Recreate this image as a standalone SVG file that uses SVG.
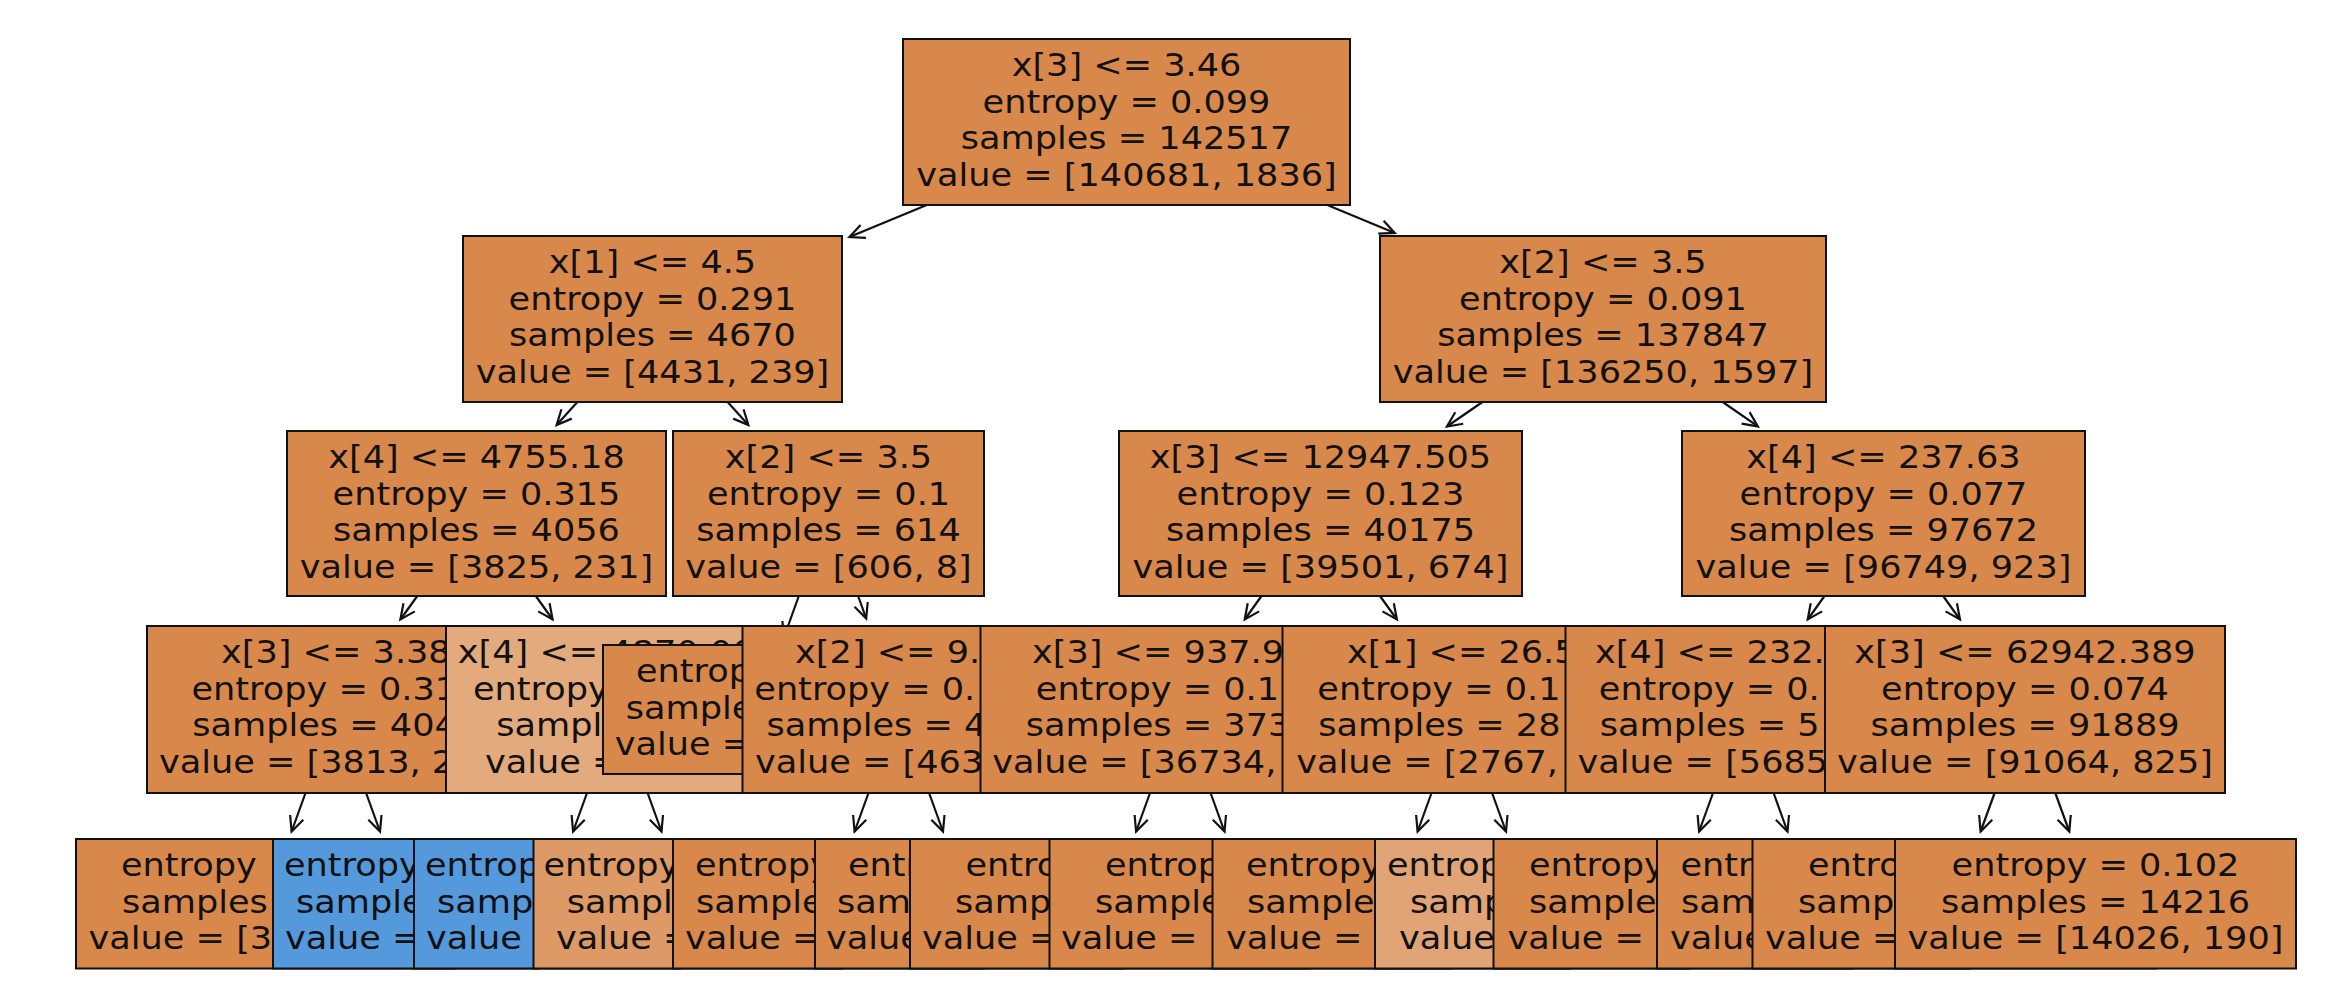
<svg xmlns="http://www.w3.org/2000/svg" width="2334" height="996" viewBox="0 0 2334 996">
<style>
.b{stroke:#111;stroke-width:2}
.o{fill:#d9884b}
.l1{fill:#e3aa7e}
.l2{fill:#dd9966}
.l3{fill:#e0a476}
.bl{fill:#5599dd}
text{font-family:"DejaVu Sans","Liberation Sans",sans-serif;font-size:32.5px;fill:#111}
.c{text-anchor:middle}
.e line{stroke:#111;stroke-width:2.2;fill:none;marker-end:url(#ah)}
</style>
<defs>
<marker id="ah" markerUnits="userSpaceOnUse" orient="auto" refX="0" refY="0" markerWidth="40" markerHeight="40" overflow="visible">
<path d="M-15,-7 L0,0 L-15,7" fill="none" stroke="#111" stroke-width="2.2"/>
</marker>
</defs>
<rect width="2334" height="996" fill="#fff"/>
<g id="connectors" class="e">
<line x1="926.8" y1="205" x2="849.4" y2="237.1"/>
<line x1="1327.3" y1="205" x2="1394.8" y2="232.9"/>
<line x1="577.4" y1="402" x2="556.6" y2="425.1"/>
<line x1="727.6" y1="402" x2="748.4" y2="425.1"/>
<line x1="1482.5" y1="402" x2="1446.9" y2="426.5"/>
<line x1="1722.7" y1="402" x2="1757.9" y2="426.4"/>
<line x1="417.3" y1="596" x2="400.4" y2="619.5"/>
<line x1="535.8" y1="596" x2="552.6" y2="619.5"/>
<line x1="798.8" y1="596" x2="783.9" y2="637.5"/>
<line x1="858.1" y1="596" x2="866.2" y2="618.5"/>
<line x1="1261.5" y1="596" x2="1244.7" y2="619.5"/>
<line x1="1380" y1="596" x2="1396.9" y2="619.5"/>
<line x1="1824.5" y1="596" x2="1807.7" y2="619.5"/>
<line x1="1943.1" y1="596" x2="1960" y2="619.5"/>
<line x1="305.5" y1="793" x2="291.6" y2="831.5"/>
<line x1="366.1" y1="793" x2="380" y2="831.5"/>
<line x1="587" y1="793" x2="573.1" y2="831.5"/>
<line x1="647.6" y1="793" x2="661.5" y2="831.5"/>
<line x1="868.5" y1="793" x2="854.6" y2="831.5"/>
<line x1="929.1" y1="793" x2="943" y2="831.5"/>
<line x1="1150" y1="793" x2="1136.1" y2="831.5"/>
<line x1="1210.6" y1="793" x2="1224.5" y2="831.5"/>
<line x1="1431.5" y1="793" x2="1417.6" y2="831.5"/>
<line x1="1492.1" y1="793" x2="1506" y2="831.5"/>
<line x1="1713" y1="793" x2="1699.1" y2="831.5"/>
<line x1="1773.6" y1="793" x2="1787.5" y2="831.5"/>
<line x1="1994.6" y1="793" x2="1980.6" y2="831.5"/>
<line x1="2055.3" y1="793" x2="2069.3" y2="831.5"/>
</g>
<g id="leaf1"><rect class="b o" x="76" y="839" width="378.5" height="129.5"/>
<text transform="translate(121 876) scale(1.08 1)">entropy</text>
<text transform="translate(122 912.6) scale(1.08 1)">samples</text>
<text transform="translate(88.6 949.2) scale(1.08 1)">value = [3</text></g>
<g id="leaf2"><rect class="b bl" x="273" y="839" width="266" height="129.5"/>
<text transform="translate(284 876) scale(1.08 1)">entropy</text>
<text transform="translate(296 912.6) scale(1.08 1)">sample</text>
<text transform="translate(285 949.2) scale(1.08 1)">value =</text></g>
<g id="leaf3"><rect class="b bl" x="414" y="839" width="266" height="129.5"/>
<text transform="translate(425 876) scale(1.08 1)">entrop</text>
<text transform="translate(437 912.6) scale(1.08 1)">samp</text>
<text transform="translate(426 949.2) scale(1.08 1)">value</text></g>
<g id="leaf4"><rect class="b l2" x="533.5" y="839" width="308.5" height="129.5"/>
<text transform="translate(543.5 876) scale(1.08 1)">entropy</text>
<text transform="translate(566.7 912.6) scale(1.08 1)">sampl</text>
<text transform="translate(556 949.2) scale(1.08 1)">value =</text></g>
<g id="leaf5"><rect class="b o" x="673" y="839" width="311" height="129.5"/>
<text transform="translate(695 876) scale(1.08 1)">entropy</text>
<text transform="translate(696 912.6) scale(1.08 1)">sample</text>
<text transform="translate(685 949.2) scale(1.08 1)">value =</text></g>
<g id="leaf6"><rect class="b o" x="815" y="839" width="308.5" height="129.5"/>
<text transform="translate(848 876) scale(1.08 1)">entr</text>
<text transform="translate(836.9 912.6) scale(1.08 1)">sam</text>
<text transform="translate(825.9 949.2) scale(1.08 1)">value</text></g>
<g id="leaf7"><rect class="b o" x="910" y="839" width="400" height="129.5"/>
<text transform="translate(965.4 876) scale(1.08 1)">entro</text>
<text transform="translate(955 912.6) scale(1.08 1)">samp</text>
<text transform="translate(922 949.2) scale(1.08 1)">value =</text></g>
<g id="leaf8"><rect class="b o" x="1049.5" y="839" width="402.5" height="129.5"/>
<text transform="translate(1105 876) scale(1.08 1)">entrop</text>
<text transform="translate(1095 912.6) scale(1.08 1)">sample</text>
<text transform="translate(1061 949.2) scale(1.08 1)">value =</text></g>
<g id="leaf9"><rect class="b o" x="1212.5" y="839" width="358" height="129.5"/>
<text transform="translate(1246 876) scale(1.08 1)">entropy</text>
<text transform="translate(1247 912.6) scale(1.08 1)">sample</text>
<text transform="translate(1226 949.2) scale(1.08 1)">value =</text></g>
<g id="leaf10"><rect class="b l3" x="1375" y="839" width="314.5" height="129.5"/>
<text transform="translate(1387 876) scale(1.08 1)">entrop</text>
<text transform="translate(1410 912.6) scale(1.08 1)">samp</text>
<text transform="translate(1399 949.2) scale(1.08 1)">value</text></g>
<g id="leaf11"><rect class="b o" x="1493.5" y="839" width="359" height="129.5"/>
<text transform="translate(1529 876) scale(1.08 1)">entropy</text>
<text transform="translate(1529 912.6) scale(1.08 1)">sample</text>
<text transform="translate(1507.6 949.2) scale(1.08 1)">value =</text></g>
<g id="leaf12"><rect class="b o" x="1657" y="839" width="313.5" height="129.5"/>
<text transform="translate(1680.5 876) scale(1.08 1)">entr</text>
<text transform="translate(1681 912.6) scale(1.08 1)">sam</text>
<text transform="translate(1670 949.2) scale(1.08 1)">value</text></g>
<g id="leaf13"><rect class="b o" x="1752.5" y="839" width="404" height="129.5"/>
<text transform="translate(1808 876) scale(1.08 1)">entro</text>
<text transform="translate(1798 912.6) scale(1.08 1)">samp</text>
<text transform="translate(1765 949.2) scale(1.08 1)">value =</text></g>
<g id="leaf14"><rect class="b o" x="1895" y="839" width="401" height="129.5"/>
<text class="c" transform="translate(2095.5 0) scale(1.08 1)"><tspan x="0" y="876">entropy = 0.102</tspan><tspan x="0" y="912.6">samples = 14216</tspan><tspan x="0" y="949.2">value = [14026, 190]</tspan></text></g>
<g id="n3a"><rect class="b o" x="147" y="626" width="378" height="167"/>
<text transform="translate(221 663) scale(1.08 1)">x[3] &lt;= 3.38</text>
<text transform="translate(191.5 699.6) scale(1.08 1)">entropy = 0.31</text>
<text transform="translate(192.3 736.2) scale(1.08 1)">samples = 404</text>
<text transform="translate(159 772.8) scale(1.08 1)">value = [3813, 2</text></g>
<g id="n3b"><rect class="b l1" x="446" y="626" width="342" height="167"/>
<text transform="translate(457.8 663) scale(1.08 1)">x[4] &lt;= 4870.00</text>
<text transform="translate(473 699.6) scale(1.08 1)">entropy</text>
<text transform="translate(496.2 736.2) scale(1.08 1)">sampl</text>
<text transform="translate(485 772.8) scale(1.08 1)">value =</text></g>
<g id="n3c"><rect class="b o" x="603" y="645" width="310" height="129"/>
<text transform="translate(636 682) scale(1.08 1)">entropy</text>
<text transform="translate(625.7 718.6) scale(1.08 1)">samples</text>
<text transform="translate(614.7 755.2) scale(1.08 1)">value =</text></g>
<g id="n3d"><rect class="b o" x="742.5" y="626" width="313" height="167"/>
<text transform="translate(795.1 663) scale(1.08 1)">x[2] &lt;= 9.</text>
<text transform="translate(754.3 699.6) scale(1.08 1)">entropy = 0.</text>
<text transform="translate(766.5 736.2) scale(1.08 1)">samples = 4</text>
<text transform="translate(755 772.8) scale(1.08 1)">value = [463</text></g>
<g id="n3e"><rect class="b o" x="980.5" y="626" width="400" height="167"/>
<text transform="translate(1032 663) scale(1.08 1)">x[3] &lt;= 937.9</text>
<text transform="translate(1035.8 699.6) scale(1.08 1)">entropy = 0.1</text>
<text transform="translate(1025.8 736.2) scale(1.08 1)">samples = 373</text>
<text transform="translate(992.3 772.8) scale(1.08 1)">value = [36734,</text></g>
<g id="n3f"><rect class="b o" x="1282.5" y="626" width="358.5" height="167"/>
<text transform="translate(1346.9 663) scale(1.08 1)">x[1] &lt;= 26.5</text>
<text transform="translate(1317.3 699.6) scale(1.08 1)">entropy = 0.1</text>
<text transform="translate(1318.3 736.2) scale(1.08 1)">samples = 28</text>
<text transform="translate(1296.3 772.8) scale(1.08 1)">value = [2767,</text></g>
<g id="n3g"><rect class="b o" x="1565.5" y="626" width="355.5" height="167"/>
<text transform="translate(1595 663) scale(1.08 1)">x[4] &lt;= 232.</text>
<text transform="translate(1598.8 699.6) scale(1.08 1)">entropy = 0.</text>
<text transform="translate(1599.8 736.2) scale(1.08 1)">samples = 5</text>
<text transform="translate(1577.6 772.8) scale(1.08 1)">value = [5685</text></g>
<g id="n3h"><rect class="b o" x="1825" y="626" width="400" height="167"/>
<text class="c" transform="translate(2025 0) scale(1.08 1)"><tspan x="0" y="663">x[3] &lt;= 62942.389</tspan><tspan x="0" y="699.6">entropy = 0.074</tspan><tspan x="0" y="736.2">samples = 91889</tspan><tspan x="0" y="772.8">value = [91064, 825]</tspan></text></g>
<g id="n2a"><rect class="b o" x="287" y="431" width="379" height="165"/>
<text class="c" transform="translate(476.5 0) scale(1.08 1)"><tspan x="0" y="468">x[4] &lt;= 4755.18</tspan><tspan x="0" y="504.6">entropy = 0.315</tspan><tspan x="0" y="541.2">samples = 4056</tspan><tspan x="0" y="577.8">value = [3825, 231]</tspan></text></g>
<g id="n2b"><rect class="b o" x="673" y="431" width="311" height="165"/>
<text class="c" transform="translate(828.5 0) scale(1.08 1)"><tspan x="0" y="468">x[2] &lt;= 3.5</tspan><tspan x="0" y="504.6">entropy = 0.1</tspan><tspan x="0" y="541.2">samples = 614</tspan><tspan x="0" y="577.8">value = [606, 8]</tspan></text></g>
<g id="n2c"><rect class="b o" x="1119" y="431" width="403" height="165"/>
<text class="c" transform="translate(1320.5 0) scale(1.08 1)"><tspan x="0" y="468">x[3] &lt;= 12947.505</tspan><tspan x="0" y="504.6">entropy = 0.123</tspan><tspan x="0" y="541.2">samples = 40175</tspan><tspan x="0" y="577.8">value = [39501, 674]</tspan></text></g>
<g id="n2d"><rect class="b o" x="1682" y="431" width="403" height="165"/>
<text class="c" transform="translate(1883.5 0) scale(1.08 1)"><tspan x="0" y="468">x[4] &lt;= 237.63</tspan><tspan x="0" y="504.6">entropy = 0.077</tspan><tspan x="0" y="541.2">samples = 97672</tspan><tspan x="0" y="577.8">value = [96749, 923]</tspan></text></g>
<g id="n1a"><rect class="b o" x="463" y="236" width="379" height="166"/>
<text class="c" transform="translate(652.5 0) scale(1.08 1)"><tspan x="0" y="273">x[1] &lt;= 4.5</tspan><tspan x="0" y="309.6">entropy = 0.291</tspan><tspan x="0" y="346.2">samples = 4670</tspan><tspan x="0" y="382.8">value = [4431, 239]</tspan></text></g>
<g id="n1b"><rect class="b o" x="1380" y="236" width="446" height="166"/>
<text class="c" transform="translate(1603 0) scale(1.08 1)"><tspan x="0" y="273">x[2] &lt;= 3.5</tspan><tspan x="0" y="309.6">entropy = 0.091</tspan><tspan x="0" y="346.2">samples = 137847</tspan><tspan x="0" y="382.8">value = [136250, 1597]</tspan></text></g>
<g id="root"><rect class="b o" x="903" y="39" width="447" height="166"/>
<text class="c" transform="translate(1126.5 0) scale(1.08 1)"><tspan x="0" y="76">x[3] &lt;= 3.46</tspan><tspan x="0" y="112.6">entropy = 0.099</tspan><tspan x="0" y="149.2">samples = 142517</tspan><tspan x="0" y="185.8">value = [140681, 1836]</tspan></text></g>
</svg>
